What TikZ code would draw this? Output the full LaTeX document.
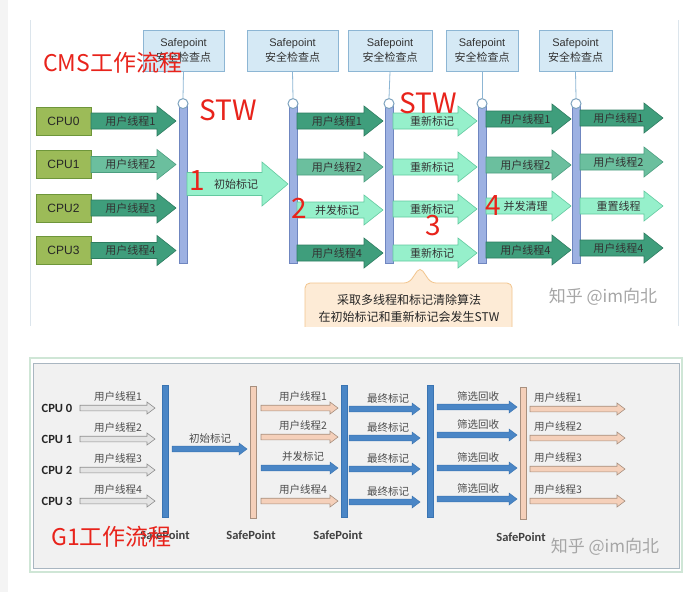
\documentclass[tikz,border=0pt]{standalone}
\usepackage{fontspec}
\setmainfont{Liberation Sans}
\newfontfamily\cjk{Noto Sans CJK SC}
\newfontfamily\calib{Carlito}
\definecolor{spfill}{HTML}{D5E9F5}
\definecolor{spdraw}{HTML}{8DB6D4}
\definecolor{barfill}{HTML}{9DB1E2}
\definecolor{bardraw}{HTML}{6F86C0}
\definecolor{cpufill}{HTML}{9CBB58}
\definecolor{cpudraw}{HTML}{6E963A}
\definecolor{darkt}{HTML}{3F9E7C}
\definecolor{darktd}{HTML}{2D7C60}
\definecolor{medt}{HTML}{6BBF9E}
\definecolor{medtd}{HTML}{4B9E80}
\definecolor{mint}{HTML}{96F0CB}
\definecolor{mintd}{HTML}{62C99F}
\definecolor{redt}{HTML}{E8231B}
\definecolor{notefill}{HTML}{FDEBD6}
\definecolor{notedraw}{HTML}{F2C58E}
\definecolor{wm}{HTML}{A6A6A6}
\definecolor{gblue}{HTML}{4A86C6}
\definecolor{gblued}{HTML}{3A74B2}
\definecolor{gpeach}{HTML}{F5D0BA}
\definecolor{gpeachd}{HTML}{A8907F}
\definecolor{ggray}{HTML}{E4E4E4}
\definecolor{ggrayd}{HTML}{8E8E8E}
\definecolor{panelfill}{HTML}{F1F1F1}
\definecolor{paneldraw}{HTML}{A9B6C1}
\definecolor{panelout}{HTML}{CFE6D6}
\definecolor{framec}{HTML}{DCE5EC}
\definecolor{sideg}{HTML}{F4F4F4}

\tikzset{
 spbox/.style={draw=spdraw, fill=spfill, line width=0.8pt, inner sep=0pt, align=center, text=black!80, font=\fontsize{11}{15}\selectfont},
 spline/.style={draw=spdraw, line width=0.8pt},
 spcirc/.style={circle, draw=spdraw!90!black, fill=white, line width=1pt, minimum size=10pt, inner sep=0pt},
 cmsbar/.style={draw=bardraw, fill=barfill, line width=0.8pt, minimum width=8pt, minimum height=159pt, inner sep=0pt},
 cpubox/.style={draw=cpudraw, fill=cpufill, line width=1pt, minimum width=55pt, minimum height=28pt, inner sep=0pt, font=\fontsize{12}{12}\selectfont, text=black!85},
 adark/.style={draw=darktd, fill=darkt, line width=0.6pt},
 amed/.style={draw=medtd, fill=medt, line width=0.6pt},
 amint/.style={draw=mintd, fill=mint, line width=0.6pt},
 cmslbl/.style={inner sep=0pt, font=\cjk\fontsize{11}{11}\selectfont, text=black!80},
 redtxt/.style={inner sep=0pt, text=redt, font=\cjk\fontsize{28}{28}\selectfont},
 redtitle/.style={inner sep=0pt, text=redt, font=\cjk\fontsize{23}{23}\selectfont, anchor=west},
 wmark/.style={inner sep=0pt, text=wm, font=\cjk\fontsize{17}{17}\selectfont},
 gblbar/.style={draw=gblued, fill=gblue, line width=0.5pt, minimum width=6pt, minimum height=132pt, inner sep=0pt},
 gpbar/.style={draw=gpeachd, fill=gpeach, line width=0.5pt, minimum width=6pt, minimum height=132pt, inner sep=0pt},
 gab/.style={draw=gblued, fill=gblue, line width=0.5pt},
 gap/.style={draw=gpeachd, fill=gpeach, line width=0.6pt},
 gag/.style={draw=ggrayd, fill=ggray, line width=0.6pt},
 glbl/.style={inner sep=0pt, font=\cjk\fontsize{10.5}{10.5}\selectfont, text=black!70},
 gcpu/.style={inner sep=0pt, font=\calib\bfseries\fontsize{12.5}{12.5}\selectfont, text=black!85},
 gsp/.style={inner sep=0pt, font=\calib\bfseries\fontsize{12.5}{12.5}\selectfont, text=black!75},
}

% CMS block arrow: style, name, x1, x2(tip), y, label
\newcommand\cmsarr[6]{%
 \filldraw[#1] (#3,#5-8) -- (#4-19,#5-8) -- (#4-19,#5-15) -- (#4,#5) -- (#4-19,#5+15) -- (#4-19,#5+8) -- (#3,#5+8) -- cycle;
 \node[cmslbl] (#2) at ({(#3+#4)/2-3},#5) {#6};}
% G1 thin arrow: style, name, x1, x2(tip), y, label, label x
\newcommand\garr[7]{%
 \filldraw[#1] (#3,#5-2.8) -- (#4-8,#5-2.8) -- (#4-8,#5-6) -- (#4,#5) -- (#4-8,#5+6) -- (#4-8,#5+2.8) -- (#3,#5+2.8) -- cycle;
 \node[glbl] (#2) at (#7,#5-11) {#6};}

\begin{document}
\begin{tikzpicture}[x=1pt,y=-1pt]
\useasboundingbox (0,0) rectangle (692,592);
\fill[white] (0,0) rectangle (692,592);
\fill[sideg] (0,0) rectangle (8,592);

% ---------------- CMS ----------------
\draw[framec, line width=0.8pt] (30,20) -- (30,326);
\draw[framec, line width=0.8pt] (678,20) -- (678,326);

% safepoint boxes
\node[spbox, minimum width=81pt, minimum height=41pt] (sp1) at (183.5,50.5) {Safepoint\\{\cjk 安全检查点}};
\node[spbox, minimum width=91pt, minimum height=41pt] (sp2) at (292.5,50.5) {Safepoint\\{\cjk 安全检查点}};
\node[spbox, minimum width=84pt, minimum height=41pt] (sp3) at (390,50.5) {Safepoint\\{\cjk 安全检查点}};
\node[spbox, minimum width=72pt, minimum height=41pt] (sp4) at (482,50.5) {Safepoint\\{\cjk 安全检查点}};
\node[spbox, minimum width=73pt, minimum height=41pt] (sp5) at (575.5,50.5) {Safepoint\\{\cjk 安全检查点}};

% bars
\node[cmsbar] (b1) at (183,183.5) {};
\node[cmsbar] (b2) at (293,183.5) {};
\node[cmsbar] (b3) at (389,183.5) {};
\node[cmsbar] (b4) at (482,183.5) {};
\node[cmsbar] (b5) at (576,183.5) {};

% circles and lines
\foreach \i in {1,...,5} {
  \node[spcirc] (c\i) at (b\i.north) {};
  \draw[spline] (sp\i.south) -- (c\i.north);
}

% CPUs
\node[cpubox] (cpu0) at (63.5,121) {CPU0};
\node[cpubox] (cpu1) at (63.5,164.5) {CPU1};
\node[cpubox] (cpu2) at (63.5,208) {CPU2};
\node[cpubox] (cpu3) at (63.5,250.5) {CPU3};

\cmsarr{adark}{a01}{91}{176}{121}{用户线程1}
\cmsarr{amed}{a02}{91}{176}{164.5}{用户线程2}
\cmsarr{adark}{a03}{91}{176}{208}{用户线程3}
\cmsarr{adark}{a04}{91}{176}{250.5}{用户线程4}

% initial mark big arrow
\filldraw[amint] (187,172.5) -- (262,172.5) -- (262,162) -- (288,184) -- (262,206) -- (262,195.5) -- (187,195.5) -- cycle;
\node[cmslbl] (init) at (236,184.5) {初始标记};

\cmsarr{adark}{a21}{297}{383}{121}{用户线程1}
\cmsarr{amed}{a22}{297}{383}{167}{用户线程2}
\cmsarr{amint}{a23}{297}{383}{210}{并发标记}
\cmsarr{adark}{a24}{297}{383}{253}{用户线程4}

\cmsarr{amint}{a31}{393}{477}{121}{重新标记}
\cmsarr{amint}{a32}{393}{477}{167}{重新标记}
\cmsarr{amint}{a33}{393}{477}{209}{重新标记}
\cmsarr{amint}{a34}{393}{477}{253}{重新标记}

\cmsarr{adark}{a41}{486}{571}{119}{用户线程1}
\cmsarr{amed}{a42}{486}{571}{165}{用户线程2}
\cmsarr{amint}{a43}{486}{571}{206}{并发清理}
\cmsarr{adark}{a44}{486}{571}{250}{用户线程4}

\cmsarr{adark}{a51}{580}{663}{118}{用户线程1}
\cmsarr{amed}{a52}{580}{663}{162}{用户线程2}
\cmsarr{amint}{a53}{580}{663}{206}{重置线程}
\cmsarr{adark}{a54}{580}{663}{248}{用户线程4}

% callout
\begin{scope}
\clip (290,255) rectangle (520,326);
\filldraw[fill=notefill, draw=notedraw, line width=0.8pt, rounded corners=5pt] (305,283) -- (409,283) -- (420,267) -- (431,283) -- (512,283) -- (512,345) -- (305,345) -- cycle;
\end{scope}
\node[inner sep=0pt, align=center, font=\cjk\fontsize{12}{17.5}\selectfont, text=black!85] (note) at (409,308.5) {采取多线程和标记清除算法\\在初始标记和重新标记会发生STW};

\node[wmark] (wm1) at (603,297) {知乎 @im向北};

% red labels
\node[redtitle] (cmstitle) at (43,63) {CMS工作流程};
\node[redtxt] (stw1) at (228,110) {STW};
\node[redtxt] (stw2) at (428,103) {STW};
\node[redtxt] (n1) at (197,181) {1};
\node[redtxt] (n2) at (299,208) {2};
\node[redtxt] (n3) at (433,226) {3};
\node[redtxt] (n4) at (493,206) {4};

% ---------------- G1 ----------------
\draw[panelout, line width=1.5pt] (30,358) rectangle (682,572);
\filldraw[fill=panelfill, draw=paneldraw, line width=0.8pt] (33,363) rectangle (679,568);

\node[gcpu] (g0) at (57,408) {CPU 0};
\node[gcpu] (g1) at (57,439) {CPU 1};
\node[gcpu] (g2) at (57,470) {CPU 2};
\node[gcpu] (g3) at (57,501) {CPU 3};

\garr{gag}{ga1}{80}{155}{408}{用户线程1}{118}
\garr{gag}{ga2}{80}{155}{439}{用户线程2}{118}
\garr{gag}{ga3}{80}{155}{470}{用户线程3}{118}
\garr{gag}{ga4}{80}{155}{501}{用户线程4}{118}

\node[gblbar] (gb1) at (165,451) {};
\node[gpbar] (gb2) at (253,452) {};
\node[gblbar] (gb3) at (344.5,451) {};
\node[gblbar] (gb4) at (430,451) {};
\node[gpbar] (gb5) at (523.5,453) {};

\garr{gab}{gi}{172}{247}{449}{初始标记}{210}

\garr{gap}{gc1}{261}{338}{408}{用户线程1}{303}
\garr{gap}{gc2}{261}{338}{437}{用户线程2}{303}
\garr{gab}{gc3}{261}{338}{468}{并发标记}{303}
\garr{gap}{gc4}{261}{338}{501}{用户线程4}{303}

\garr{gab}{gd1}{349}{420}{409}{最终标记}{388}
\garr{gab}{gd2}{349}{420}{438}{最终标记}{388}
\garr{gab}{gd3}{349}{420}{469}{最终标记}{388}
\garr{gab}{gd4}{349}{420}{502}{最终标记}{388}

\garr{gab}{ge1}{437}{517}{407}{筛选回收}{478}
\garr{gab}{ge2}{437}{517}{435}{筛选回收}{478}
\garr{gab}{ge3}{437}{517}{468}{筛选回收}{478}
\garr{gab}{ge4}{437}{517}{499}{筛选回收}{478}

\garr{gap}{gf1}{530}{625}{409}{用户线程1}{558}
\garr{gap}{gf2}{530}{625}{438}{用户线程2}{558}
\garr{gap}{gf3}{530}{625}{469}{用户线程3}{558}
\garr{gap}{gf4}{530}{625}{501}{用户线程3}{558}

\node[gsp] (s1) at (165,535) {SafePoint};
\node[gsp] (s2) at (251,535) {SafePoint};
\node[gsp] (s3) at (338,535) {SafePoint};
\node[gsp] (s5) at (521,537) {SafePoint};

\node[wmark] (wm2) at (605,547) {知乎 @im向北};
\node[redtitle] (g1title) at (51,537) {G1工作流程};
\end{tikzpicture}
\end{document}
